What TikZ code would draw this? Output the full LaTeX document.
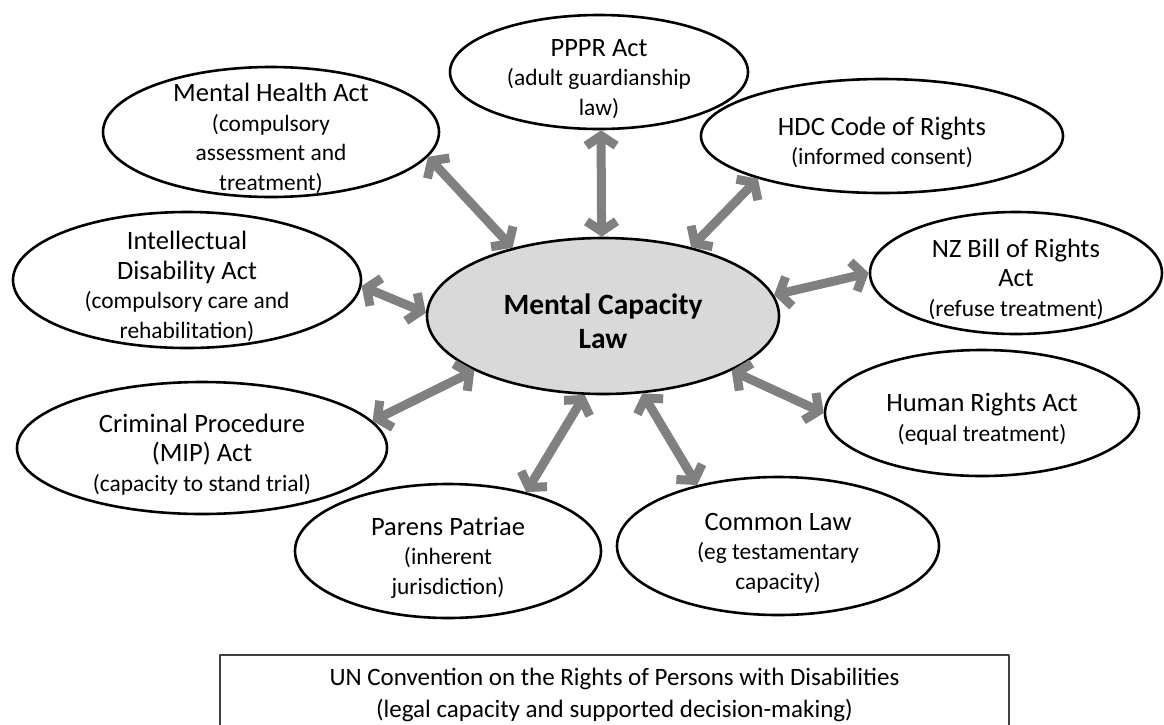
\documentclass[tikz,border=0pt]{standalone}
\usepackage{fontspec}
\setmainfont{Carlito}
\usetikzlibrary{shapes.geometric}
\usetikzlibrary{arrows.meta}
\definecolor{linkgray}{HTML}{808080}
\definecolor{hubgray}{HTML}{D9D9D9}
\definecolor{boxgray}{HTML}{404040}
\newcommand{\paren}[1]{{\fontsize{23.4}{28}\selectfont #1}}
\newcommand{\topstrut}{\rule{0pt}{31pt}}

\begin{document}
\begin{tikzpicture}[x=1pt,y=-1pt,line cap=round,line join=round,
  law/.style={ellipse,draw=black,line width=2.6pt,align=center,inner xsep=0pt,inner ysep=-20pt,font=\fontsize{26.5}{29.5}\selectfont},
  hub/.style={law,fill=hubgray,font=\bfseries\fontsize{29.5}{34}\selectfont},
  link/.style={draw=linkgray,line width=9pt,{Straight Barb[length=10pt,width=30pt]}-{Straight Barb[length=10pt,width=30pt]}}]
\useasboundingbox (0,0) rectangle (1164,724);
%\draw[help lines] (0,0) grid[step=50] (1164,724);
\node[hub, minimum width=352pt, minimum height=156pt] (mcl) at (603,316) {\topstrut Mental Capacity\\Law};
\node[law, minimum width=298pt, minimum height=114pt] (pppr) at (599,72) {\topstrut PPPR Act\\\paren{(adult guardianship}\\\paren{law)}};
\node[law, minimum width=336pt, minimum height=130pt] (mha) at (271,132) {\topstrut Mental Health Act\\\paren{(compulsory}\\\paren{assessment and}\\\paren{treatment)}};
\node[law, minimum width=362pt, minimum height=114pt] (hdc) at (882,136) {\topstrut HDC Code of Rights\\\paren{(informed consent)}};
\node[law, minimum width=348pt, minimum height=136pt] (ida) at (187,280) {\topstrut Intellectual\\Disability Act\\\paren{(compulsory care and}\\\paren{rehabilitation)}};
\node[law, minimum width=292pt, minimum height=122pt] (nzb) at (1016,273) {\topstrut NZ Bill of Rights\\Act\\\paren{(refuse treatment)}};
\node[law, minimum width=314pt, minimum height=126pt] (hra) at (982,413) {\topstrut Human Rights Act\\\paren{(equal treatment)}};
\node[law, minimum width=370pt, minimum height=132pt] (cpa) at (202,448) {\topstrut Criminal Procedure\\(MIP) Act\\\paren{(capacity to stand trial)}};
\node[law, minimum width=306pt, minimum height=134pt] (ppj) at (448,551) {\topstrut Parens Patriae\\\paren{(inherent}\\\paren{jurisdiction)}};
\node[law, minimum width=322pt, minimum height=138pt] (col) at (778,546) {\topstrut Common Law\\\paren{(eg testamentary}\\\paren{capacity)}};
\node[draw=boxgray, line width=1.6pt, minimum width=789pt, minimum height=80pt, inner sep=0pt, align=center, font=\fontsize{25}{32}\selectfont] (crpd) at (614.5,695) {UN Convention on the Rights of Persons with Disabilities\\(legal capacity and supported decision-making)};
\draw[link] (mcl.143) -- (mha.-9);
\draw[link] (mcl.91) -- (pppr.-88);
\draw[link] (mcl.38) -- (hdc.199);
\draw[link] (mcl.7) -- (nzb.180);
\draw[link] (mcl.179) -- (ida.-2);
\draw[link] (mcl.-23) -- (hra.180);
\draw[link] (mcl.203) -- (cpa.9);
\draw[link] (mcl.257) -- (ppj.37);
\draw[link] (mcl.297) -- (col.143);
\end{tikzpicture}
\end{document}
